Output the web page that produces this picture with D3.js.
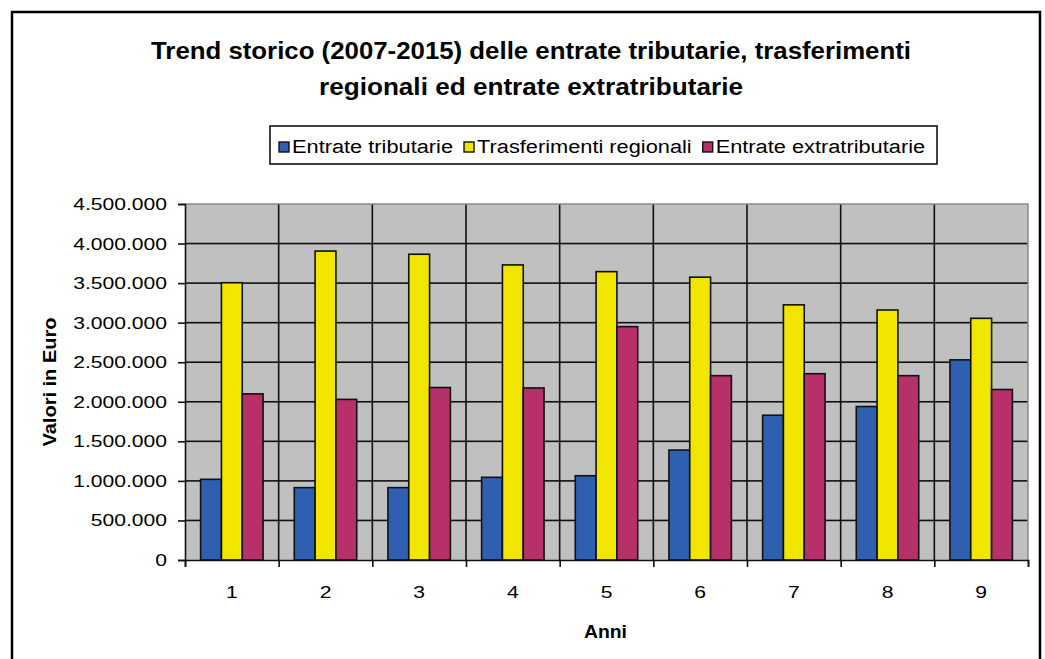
<!DOCTYPE html>
<html>
<head>
<meta charset="utf-8">
<script src="https://cdn.jsdelivr.net/npm/d3@7"></script>
<style>
  body { margin: 0; background: #fff; }
  text { font-family: Arial, "Liberation Sans", sans-serif; fill: #000; }
</style>
</head>
<body>
<div id="wrapper"></div>
<script>
// Data
const anni = ['1', '2', '3', '4', '5', '6', '7', '8', '9']
const serie = ['Entrate tributarie', 'Trasferimenti regionali', 'Entrate extratributarie']
const entrateTributarie = [1020000, 915000, 915000, 1045000, 1065000, 1390000, 1830000, 1940000, 2530000]
const trasferimentiRegionali = [3505000, 3905000, 3865000, 3730000, 3645000, 3575000, 3225000, 3160000, 3055000]
const entrateExtratributarie = [2100000, 2030000, 2180000, 2175000, 2950000, 2330000, 2355000, 2330000, 2155000]
const yTicks = [0, 500000, 1000000, 1500000, 2000000, 2500000, 3000000, 3500000, 4000000, 4500000]
const titleLines = ['Trend storico (2007-2015) delle entrate tributarie, trasferimenti',
                    'regionali ed entrate extratributarie']

const colors = ['#2f5fb0', '#f2e600', '#b8306a']

function drawBars() {
  const dataset = anni.map((a, i) => ({
    anno: a,
    values: [entrateTributarie[i], trasferimentiRegionali[i], entrateExtratributarie[i]]
  }))

  let dimensions = {
    width: 1045,
    height: 659,
    margins: {
      top: 204,
      right: 17,
      left: 185,
      bottom: 99
    }
  }
  dimensions.boundedWidth = dimensions.width - dimensions.margins.left - dimensions.margins.right
  dimensions.boundedHeight = dimensions.height - dimensions.margins.top - dimensions.margins.bottom

  // stretch text horizontally (the source picture is a bit wide)
  const stretch = (sel, k) => sel.each(function () {
    const w = this.getComputedTextLength()
    d3.select(this).attr('textLength', w * k).attr('lengthAdjust', 'spacingAndGlyphs')
  })

  const wrapper = d3.select('#wrapper').append('svg')
                    .attr('width', dimensions.width)
                    .attr('height', dimensions.height)

  // outer frame
  wrapper.append('rect')
         .attr('x', 12).attr('y', 12)
         .attr('width', 1028).attr('height', 700)
         .attr('fill', '#fff')
         .attr('stroke', '#000')
         .attr('stroke-width', 2.5)

  // title
  const title = wrapper.append('g')
  title.selectAll('text')
       .data(titleLines)
       .enter().append('text')
       .attr('x', 531)
       .attr('y', (d, i) => 59 + i * 36)
       .attr('text-anchor', 'middle')
       .style('font-size', '23px')
       .style('font-weight', 'bold')
       .text(d => d)
       .attr('textLength', (d, i) => i == 0 ? 760 : 424)
       .attr('lengthAdjust', 'spacingAndGlyphs')

  // scales
  const xScale = d3.scaleBand()
                   .domain(anni)
                   .range([0, dimensions.boundedWidth])

  const seriesScale = d3.scaleBand()
                        .domain(serie)
                        .range([0, xScale.bandwidth()])
                        .paddingInner(0)
                        .paddingOuter(0.75)

  const yScale = d3.scaleLinear()
                   .domain([0, 4500000])
                   .range([dimensions.boundedHeight, 0])

  const tickScale = d3.scaleLinear()
                      .domain([0, anni.length])
                      .range([0, dimensions.boundedWidth])

  const locale = d3.formatLocale({decimal: ',', thousands: '.', grouping: [3], currency: ['€', '']})
  const fmt = locale.format(',d')

  const bounds = wrapper.append('g')
                        .attr('transform', `translate(${dimensions.margins.left},${dimensions.margins.top})`)

  bounds.append('rect')
        .attr('width', dimensions.boundedWidth)
        .attr('height', dimensions.boundedHeight)
        .attr('fill', '#c0c0c0')

  // gridlines (thin rects)
  const lw = 1.6
  bounds.append('g').selectAll('rect')
        .data(yTicks.slice(1, -1))
        .enter().append('rect')
        .attr('x', 0)
        .attr('y', d => yScale(d) - lw / 2)
        .attr('width', dimensions.boundedWidth)
        .attr('height', lw)
        .attr('fill', '#111')

  bounds.append('g').selectAll('rect')
        .data(d3.range(1, anni.length))
        .enter().append('rect')
        .attr('x', d => tickScale(d) - lw / 2)
        .attr('y', 0)
        .attr('width', lw)
        .attr('height', dimensions.boundedHeight)
        .attr('fill', '#111')

  // bars
  const groups = bounds.selectAll('.anno')
                       .data(dataset)
                       .enter().append('g')
                       .attr('class', 'anno')
                       .attr('transform', d => `translate(${xScale(d.anno)},0)`)

  groups.selectAll('rect')
        .data(d => d.values.map((v, j) => ({serie: serie[j], value: v, color: colors[j]})))
        .enter().append('rect')
        .attr('x', d => seriesScale(d.serie))
        .attr('y', d => yScale(d.value))
        .attr('width', seriesScale.bandwidth())
        .attr('height', d => dimensions.boundedHeight - yScale(d.value))
        .attr('fill', d => d.color)
        .attr('stroke', '#111')
        .attr('stroke-width', 1.6)

  // plot border top / right
  bounds.append('path')
        .attr('d', `M0,0H${dimensions.boundedWidth}V${dimensions.boundedHeight}`)
        .attr('fill', 'none')
        .attr('stroke', '#8a8a8a')
        .attr('stroke-width', 1.5)

  // axes
  const yAxis = bounds.append('g')
                      .call(d3.axisLeft(yScale).tickValues(yTicks).tickSize(7).tickPadding(11).tickFormat(fmt))
  yAxis.selectAll('line, path').attr('stroke', '#111').attr('stroke-width', 1.6)
  yAxis.selectAll('text').style('font-size', '17px').attr('fill', '#111')
  stretch(yAxis.selectAll('text'), 1.24)

  const xTicks = bounds.append('g')
                       .attr('transform', `translate(0,${dimensions.boundedHeight})`)
                       .call(d3.axisBottom(tickScale).tickValues(d3.range(0, anni.length + 1)).tickSize(7).tickFormat(''))
  xTicks.selectAll('line, path').attr('stroke', '#111').attr('stroke-width', 1.6)

  const xAxis = bounds.append('g')
                      .attr('transform', `translate(0,${dimensions.boundedHeight})`)
                      .call(d3.axisBottom(xScale).tickSize(0).tickPadding(26))
  xAxis.select('.domain').remove()
  xAxis.selectAll('text').style('font-size', '17px').attr('fill', '#111')
  stretch(xAxis.selectAll('text'), 1.24)

  // axis titles
  bounds.append('text')
        .attr('x', dimensions.boundedWidth / 2 - 1)
        .attr('y', dimensions.boundedHeight + 78)
        .attr('text-anchor', 'middle')
        .style('font-size', '18px')
        .style('font-weight', 'bold')
        .text('Anni')
        .attr('textLength', 43)
        .attr('lengthAdjust', 'spacingAndGlyphs')

  bounds.append('text')
        .attr('transform', `translate(${56 - dimensions.margins.left},${382 - dimensions.margins.top}) rotate(-90)`)
        .attr('text-anchor', 'middle')
        .style('font-size', '18px')
        .style('font-weight', 'bold')
        .text('Valori in Euro')
        .attr('textLength', 129)
        .attr('lengthAdjust', 'spacingAndGlyphs')

  // legend
  const legend = wrapper.append('g')
  legend.append('rect')
        .attr('x', 270).attr('y', 126)
        .attr('width', 667).attr('height', 38)
        .attr('fill', '#fff')
        .attr('stroke', '#111')
        .attr('stroke-width', 1.6)

  let lx = 279
  serie.forEach((s, j) => {
    legend.append('rect')
          .attr('x', lx).attr('y', 142)
          .attr('width', 10).attr('height', 10)
          .attr('fill', colors[j])
          .attr('stroke', '#111')
          .attr('stroke-width', 1.4)
    const t = legend.append('text')
                    .attr('x', lx + 13)
                    .attr('y', 153)
                    .style('font-size', '18px')
                    .text(s)
    stretch(t, 1.21)
    lx = lx + 13 + +t.attr('textLength') + 11
  })
}
drawBars()
</script>
</body>
</html>
